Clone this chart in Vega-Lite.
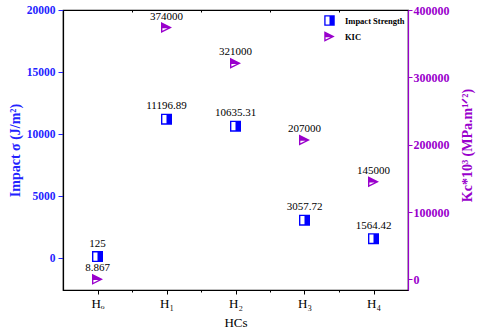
{
  "$schema": "https://vega.github.io/schema/vega-lite/v6.json",
  "width": 345,
  "height": 280,
  "autosize": "none",
  "padding": {"left": 63, "top": 10, "right": 72, "bottom": 46},
  "background": "white",
  "config": {
    "view": {"stroke": "black", "strokeWidth": 1.2},
    "font": "Liberation Serif",
    "axis": {"grid": false, "labelFont": "Liberation Serif", "titleFont": "Liberation Serif", "domainWidth": 1.2},
    "legend": {"labelFont": "Liberation Serif"}
  },
  "datasets": {
    "impact": [
      {"idx": 1, "HC": "Ho", "value": 125, "series": "Impact Strength"},
      {"idx": 2, "HC": "H1", "value": 11196.89, "series": "Impact Strength"},
      {"idx": 3, "HC": "H2", "value": 10635.31, "series": "Impact Strength"},
      {"idx": 4, "HC": "H3", "value": 3057.72, "series": "Impact Strength"},
      {"idx": 5, "HC": "H4", "value": 1564.42, "series": "Impact Strength"}
    ],
    "kic": [
      {"idx": 1, "HC": "Ho", "value": 8.867, "series": "KIC"},
      {"idx": 2, "HC": "H1", "value": 374000, "series": "KIC"},
      {"idx": 3, "HC": "H2", "value": 321000, "series": "KIC"},
      {"idx": 4, "HC": "H3", "value": 207000, "series": "KIC"},
      {"idx": 5, "HC": "H4", "value": 145000, "series": "KIC"}
    ]
  },
  "layer": [
    {
      "data": {"name": "impact"},
      "layer": [
        {
          "mark": {"type": "point", "filled": true, "size": 121, "opacity": 1, "strokeWidth": 0},
          "encoding": {
            "x": {
              "field": "idx", "type": "quantitative",
              "scale": {"domain": [0.5, 5.5], "nice": false, "zero": false},
              "axis": {
                "orient": "bottom", "title": "HCs", "titleFont": "Liberation Serif", "titleFontSize": 13, "titleFontWeight": "normal", "titleColor": "black", "titlePadding": 6,
                "values": [1, 1.5, 2, 2.5, 3, 3.5, 4, 4.5, 5],
                "labelExpr": "datum.value === 1 ? 'Hₒ' : datum.value === 2 ? 'H₁' : datum.value === 3 ? 'H₂' : datum.value === 4 ? 'H₃' : datum.value === 5 ? 'H₄' : ''",
                "labelFont": "Liberation Serif", "labelFontSize": 13, "labelColor": "black", "labelPadding": 3,
                "domainColor": "black", "tickColor": "black",
                "tickSize": {"condition": {"test": "datum.value % 1 === 0", "value": 4}, "value": 2}
              }
            },
            "y": {
              "field": "value", "type": "quantitative",
              "scale": {"domain": [-2573, 20000], "nice": false, "zero": false},
              "axis": {
                "orient": "left", "title": "Impact σ (J/m²)", "titleFont": "Liberation Serif", "titleColor": "#2222ff", "titleFontSize": 14, "titleFontWeight": "bold", "titlePadding": 4,
                "values": [0, 2500, 5000, 7500, 10000, 12500, 15000, 17500, 20000],
                "labelExpr": "datum.value % 5000 === 0 ? '' + datum.value : ''",
                "labelFont": "Liberation Serif", "labelColor": "#2222ff", "labelFontWeight": "bold", "labelFontSize": 11.5, "labelPadding": 3,
                "domainColor": "black", "tickColor": "#2222ff",
                "tickSize": {"condition": {"test": "datum.value % 5000 === 0", "value": 5}, "value": 3}
              }
            },
            "color": {
              "field": "series", "type": "nominal",
              "scale": {"domain": ["Impact Strength", "KIC"], "range": ["#0000ff", "#9900cc"]},
              "legend": {"title": null, "orient": "none", "legendX": 261, "legendY": 5, "symbolSize": 110, "symbolStrokeWidth": 0, "labelFont": "Liberation Serif", "labelFontWeight": "bold", "labelFontSize": 8.5, "labelColor": "black", "rowPadding": 5, "labelOffset": 10}
            },
            "shape": {
              "field": "series", "type": "nominal",
              "scale": {"domain": ["Impact Strength", "KIC"], "range": ["M-1,-1L1,-1L1,1L-1,1ZM-0.75,-0.75L-0.75,0.75L0,0.75L0,-0.75Z", "M-1,-1L1,0L-1,1ZM-0.75,0.125L-0.75,0.595L0.19,0.125Z"]},
              "legend": {"title": null, "orient": "none", "legendX": 261, "legendY": 5, "symbolSize": 110, "symbolStrokeWidth": 0, "labelFont": "Liberation Serif", "labelFontWeight": "bold", "labelFontSize": 8.5, "labelColor": "black", "rowPadding": 5, "labelOffset": 10}
            }
          }
        },
        {
          "mark": {"type": "text", "dy": -13, "fontSize": 11, "font": "Liberation Serif", "color": "black"},
          "encoding": {
            "x": {"field": "idx", "type": "quantitative"},
            "y": {"field": "value", "type": "quantitative"},
            "text": {"field": "value", "type": "nominal"}
          }
        }
      ]
    },
    {
      "data": {"name": "kic"},
      "layer": [
        {
          "mark": {"type": "point", "filled": true, "size": 121, "opacity": 1, "strokeWidth": 0},
          "encoding": {
            "x": {
              "field": "idx", "type": "quantitative",
              "scale": {"domain": [0.5, 5.5], "nice": false, "zero": false},
              "axis": {
                "orient": "top", "title": null, "labels": false,
                "values": [1.5, 2.5, 3.5, 4.5],
                "domainColor": "black", "tickColor": "black", "tickSize": -2
              }
            },
            "y": {
              "field": "value", "type": "quantitative",
              "scale": {"domain": [-15800, 400000], "nice": false, "zero": false},
              "axis": {
                "orient": "right", "title": "Kc*10³ (MPa.m¹ᐟ²)", "titleFont": "Liberation Serif", "titleColor": "#9900cc", "titleFontSize": 14, "titleFontWeight": "bold",
                "titleAngle": 270, "titleX": 59, "titleY": 135, "titleAlign": "center", "titleBaseline": "middle",
                "values": [0, 25000, 50000, 75000, 100000, 125000, 150000, 175000, 200000, 225000, 250000, 275000, 300000, 325000, 350000, 375000, 400000],
                "labelExpr": "datum.value % 50000 === 0 ? '' + datum.value : ''",
                "labelFont": "Liberation Serif", "labelColor": "#9900cc", "labelFontWeight": "bold", "labelFontSize": 12, "labelPadding": 1,
                "domainColor": "#9900cc", "tickColor": "#9900cc",
                "tickSize": {"condition": {"test": "datum.value % 50000 === 0", "value": 4}, "value": 2.5}
              }
            },
            "color": {"field": "series", "type": "nominal"},
            "shape": {"field": "series", "type": "nominal"}
          }
        },
        {
          "mark": {"type": "text", "dy": -11, "fontSize": 11, "font": "Liberation Serif", "color": "black"},
          "encoding": {
            "x": {"field": "idx", "type": "quantitative"},
            "y": {"field": "value", "type": "quantitative"},
            "text": {"field": "value", "type": "nominal"}
          }
        }
      ]
    }
  ],
  "resolve": {"scale": {"y": "independent"}, "axis": {"x": "independent", "y": "independent"}}
}
